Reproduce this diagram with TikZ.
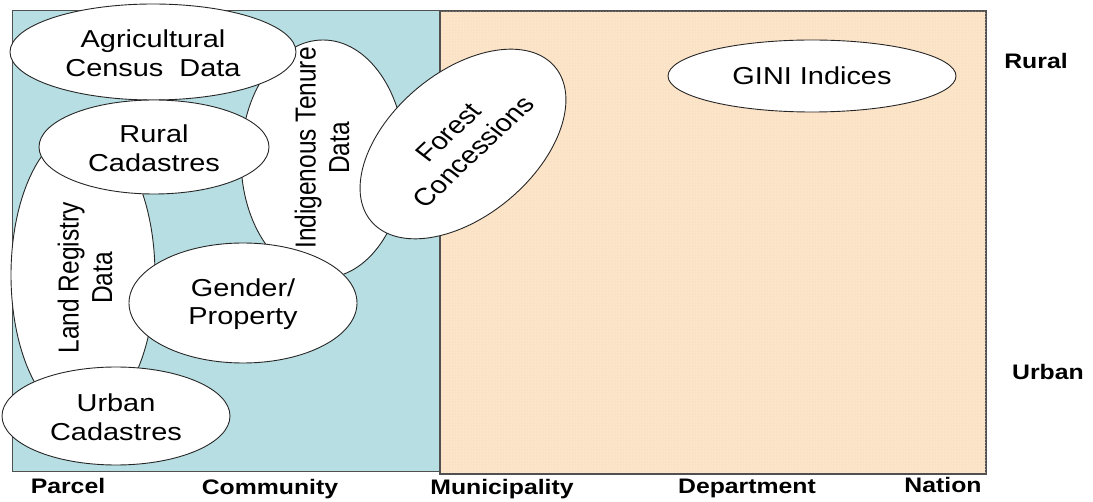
\documentclass[tikz,border=0pt]{standalone}
\usepackage{fontspec}
\setmainfont{Liberation Sans}
\newfontfamily\wideface{Liberation Sans}[FakeStretch=1.18]
\usetikzlibrary{shapes.geometric,patterns}
\definecolor{localfill}{RGB}{183,222,226}
\definecolor{regionfill}{RGB}{251,226,196}
\definecolor{regiondots}{RGB}{255,238,218}
\definecolor{framegray}{RGB}{80,80,80}
\begin{document}
\begin{tikzpicture}[x=1pt,y=1pt,
  zone/.style={rectangle, draw=framegray, line width=1.2pt, inner sep=0pt, anchor=south west},
  bubble/.style={ellipse, draw=black!85, line width=0.9pt, fill=white, inner sep=0pt},
  tag/.style={align=center, inner sep=0pt, font=\wideface\fontsize{24.5}{28.5}\selectfont},
  vtag/.style={align=center, inner sep=0pt, font=\fontsize{24.5}{28.5}\selectfont},
  scalelabel/.style={inner sep=0pt, anchor=base, font=\wideface\bfseries\fontsize{21}{24}\selectfont},
  sidelabel/.style={inner sep=0pt, font=\wideface\bfseries\fontsize{21}{24}\selectfont}]
\useasboundingbox (0,0) rectangle (1093,501);

% spatial scale zones
\node[zone, fill=localfill, minimum width=428pt, minimum height=461pt] (localzone) at (12,29) {};
\node[zone, fill=regionfill, minimum width=545pt, minimum height=462pt,
      postaction={pattern=crosshatch dots, pattern color=regiondots}] (regionzone) at (440,27) {};
\draw[framegray, line width=1.2pt] (regionzone.north west) -- (regionzone.north east) -- (regionzone.south east) -- (regionzone.south west) -- cycle;

% data sources
\node[bubble, rotate=90, minimum width=238pt, minimum height=164pt] (indig) at (323,342) {};
\node[bubble, rotate=90, minimum width=290pt, minimum height=144pt] (landreg) at (83,226) {};
\node[bubble, minimum width=286pt, minimum height=96pt] (agri) at (153,449) {};
\node[bubble, minimum width=230pt, minimum height=94pt] (rural) at (154,354) {};
\node[bubble, minimum width=228pt, minimum height=120pt] (gender) at (243,198) {};
\node[bubble, minimum width=228pt, minimum height=98pt] (urban) at (116,85) {};
\node[bubble, rotate=40, minimum width=240pt, minimum height=144pt] (forest) at (463,357) {};
\node[bubble, minimum width=288pt, minimum height=72pt] (gini) at (812,425) {};

% bubble texts (turned texts are widened across the page like the level ones)
\node[vtag, xscale=1.18, rotate=90] (indigtext) at ([xshift=-1pt,yshift=11pt]indig.center) {Indigenous Tenure\\Data};
\node[vtag, xscale=1.18, rotate=90] (landregtext) at ([xshift=2pt,yshift=-3pt]landreg.center) {Land Registry\\Data};
\node[tag] (agritext) at ([yshift=-1pt]agri.center) {Agricultural\\Census\ \ Data};
\node[tag] (ruraltext) at ([yshift=-1pt]rural.center) {Rural\\Cadastres};
\node[tag] (gendertext) at ([yshift=-1pt]gender.center) {Gender/\\Property};
\node[tag] (urbantext) at ([yshift=-1pt]urban.center) {Urban\\Cadastres};
\node[vtag, xscale=1.18, rotate=48] (foresttext) at ([xshift=-2pt,yshift=2pt]forest.center) {Forest\\Concessions};
\node[tag] (ginitext) at (gini.center) {GINI Indices};

% scale axis
\node[scalelabel] (parcel) at (68,8) {Parcel};
\node[scalelabel] (community) at (270,6) {Community};
\node[scalelabel] (municipality) at (502,6) {Municipality};
\node[scalelabel] (department) at (747,8) {Department};
\node[scalelabel] (nation) at (943,9) {Nation};
\node[sidelabel] (rurallabel) at (1036,440) {Rural};
\node[sidelabel] (urbanlabel) at (1048,129) {Urban};
\end{tikzpicture}
\end{document}
